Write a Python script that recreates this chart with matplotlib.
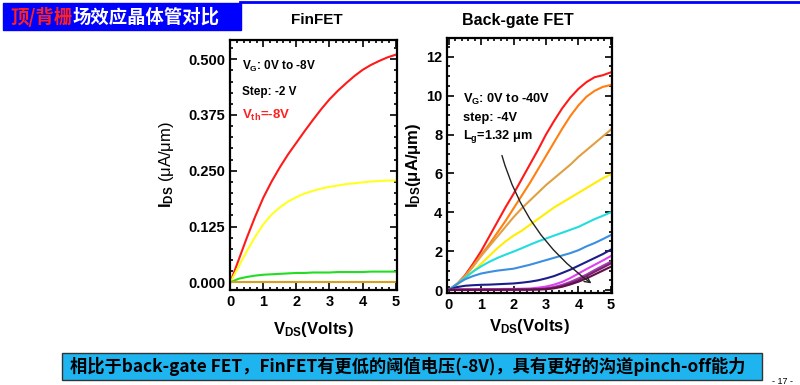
import matplotlib.pyplot as plt
from matplotlib.patches import Rectangle
from matplotlib.ticker import MultipleLocator, FormatStrFormatter

plt.rcParams['font.family'] = ['Liberation Sans', 'DejaVu Sans']
plt.rcParams['font.weight'] = 'bold'
plt.rcParams['axes.labelweight'] = 'bold'
plt.rcParams['mathtext.fontset'] = 'custom'
plt.rcParams['mathtext.rm'] = 'Liberation Sans:weight=normal'
plt.rcParams['mathtext.bf'] = 'Liberation Sans:bold'
plt.rcParams['mathtext.it'] = 'Liberation Sans:bold'
plt.rcParams['mathtext.default'] = 'bf'

# shared VDS grid (V)
vds = [0, 0.25, 0.5, 0.75, 1, 1.25, 1.5, 1.75, 2, 2.25, 2.5,
       2.75, 3, 3.25, 3.5, 3.75, 4, 4.25, 4.5, 4.75, 5]

# FinFET IDS (uA/um), VG 0V to -8V step -2V
fin_red = [0, 0.050, 0.100, 0.147, 0.190, 0.226, 0.258, 0.287, 0.313, 0.339, 0.364,
           0.388, 0.410, 0.429, 0.446, 0.462, 0.476, 0.487, 0.496, 0.504, 0.510]
fin_yellow = [0, 0.035, 0.070, 0.102, 0.130, 0.152, 0.168, 0.181, 0.191, 0.199, 0.205,
              0.210, 0.214, 0.217, 0.220, 0.222, 0.224, 0.226, 0.227, 0.228, 0.228]
fin_green = [0, 0.008, 0.012, 0.015, 0.017, 0.018, 0.019, 0.020, 0.021, 0.021, 0.022,
             0.022, 0.022, 0.023, 0.023, 0.023, 0.023, 0.024, 0.024, 0.024, 0.024]
fin_brown = [0.0005] * 21
fin_curves = [('#ff1a1a', fin_red), ('#ffff22', fin_yellow),
              ('#22dd22', fin_green), ('#d4a020', fin_brown)]

# Back-gate FET IDS (uA/um), VG 0V to -40V step -4V
bg_curves = [
    ('#ff1a1a', [0, 0.30, 0.75, 1.35, 2.00, 2.75, 3.50, 4.25, 4.95, 5.70, 6.45,
                 7.20, 8.00, 8.70, 9.35, 9.90, 10.35, 10.70, 10.95, 11.05, 11.20]),
    ('#ff7f10', [0, 0.28, 0.70, 1.25, 1.80, 2.35, 2.95, 3.55, 4.20, 4.85, 5.50,
                 6.20, 6.90, 7.60, 8.30, 8.95, 9.50, 9.95, 10.25, 10.45, 10.55]),
    ('#e0a040', [0, 0.30, 0.70, 1.20, 1.75, 2.25, 2.75, 3.25, 3.75, 4.20, 4.60,
                 5.00, 5.40, 5.75, 6.10, 6.45, 6.85, 7.20, 7.55, 7.90, 8.25]),
    ('#ffee00', [0, 0.25, 0.60, 0.95, 1.35, 1.75, 2.15, 2.50, 2.80, 3.05, 3.35,
                 3.65, 3.95, 4.25, 4.50, 4.75, 5.00, 5.25, 5.50, 5.75, 5.95]),
    ('#22dddd', [0, 0.30, 0.62, 0.95, 1.22, 1.45, 1.65, 1.82, 1.98, 2.15, 2.33,
                 2.50, 2.65, 2.80, 2.95, 3.10, 3.25, 3.45, 3.65, 3.82, 4.00]),
    ('#3a8fe0', [0, 0.30, 0.55, 0.72, 0.85, 0.93, 1.00, 1.05, 1.10, 1.20, 1.30,
                 1.42, 1.54, 1.66, 1.78, 1.90, 2.05, 2.25, 2.42, 2.62, 2.83]),
    ('#1c1c8c', [0, 0.15, 0.22, 0.25, 0.27, 0.28, 0.30, 0.32, 0.34, 0.38, 0.43,
                 0.50, 0.60, 0.72, 0.88, 1.05, 1.25, 1.45, 1.65, 1.85, 2.08]),
    ('#e040f0', [0, 0.03, 0.04, 0.04, 0.05, 0.05, 0.05, 0.06, 0.06, 0.07, 0.08,
                 0.12, 0.18, 0.28, 0.42, 0.62, 0.85, 1.08, 1.30, 1.52, 1.75]),
    ('#a040b0', [0, 0.02, 0.02, 0.02, 0.02, 0.02, 0.02, 0.02, 0.03, 0.03, 0.04,
                 0.05, 0.09, 0.16, 0.27, 0.42, 0.60, 0.80, 1.03, 1.25, 1.46]),
    ('#802070', [0, 0.02, 0.02, 0.02, 0.02, 0.02, 0.02, 0.02, 0.02, 0.03, 0.03,
                 0.04, 0.06, 0.12, 0.21, 0.35, 0.51, 0.72, 0.94, 1.15, 1.37]),
    ('#601048', [0, 0.01, 0.01, 0.01, 0.01, 0.01, 0.01, 0.02, 0.02, 0.02, 0.02,
                 0.03, 0.04, 0.09, 0.17, 0.29, 0.43, 0.60, 0.80, 1.00, 1.20]),
]

fig = plt.figure(figsize=(8, 3.85), dpi=100)

# page decorations in pixel coords
bg = fig.add_axes([0, 0, 1, 1])
bg.set_xlim(0, 800)
bg.set_ylim(385, 0)
bg.axis('off')
bg.plot([240, 800], [1.5, 1.5], color='#0000ff', lw=2)
bg.add_patch(Rectangle((3, 3), 238, 27, color='#0000ff'))
cjk = ['Noto Sans CJK SC', 'DejaVu Sans']
t1 = bg.text(10, 17, '顶/背栅', color='#ff2020', fontsize=13.2, fontweight='bold',
             family=cjk, va='center')
bg.annotate('场效应晶体管对比', xy=(1, 0.5), xycoords=t1, va='center', ha='left',
            color='white', fontsize=13.2, fontweight='bold', family=cjk)
bg.add_patch(Rectangle((62, 353), 700, 27, facecolor='#1eb4f0', edgecolor='#333333', lw=1))
bg.text(70, 366.5, '相比于back-gate FET，FinFET有更低的阈值电压(-8V)，具有更好的沟道pinch-off能力',
        fontsize=12.4, fontweight='bold', family=cjk, va='center', color='black')
bg.text(783, 381, '- 17 -', fontsize=6.5, ha='center', va='center', fontweight='normal')
bg.text(317, 20, 'FinFET', fontsize=11, ha='center', va='center')
bg.text(518, 20, 'Back-gate FET', fontsize=11.5, ha='center', va='center')


def style_axes(ax):
    for s in ax.spines.values():
        s.set_linewidth(1.6)
    ax.tick_params(which='both', direction='in', top=True, right=True, labelsize=10.5, width=1.2)
    ax.tick_params(which='major', length=5)
    ax.tick_params(which='minor', length=2.5)
    ax.xaxis.set_major_locator(MultipleLocator(1))
    ax.xaxis.set_minor_locator(MultipleLocator(0.2))


# FinFET
ax1 = fig.add_axes([0.2875, 0.247, 0.209, 0.649])
for c, vals in fin_curves:
    ax1.plot(vds, vals, color=c, lw=1.5)
ax1.set_xlim(-0.01, 5.05)
ax1.set_ylim(-0.017, 0.543)
style_axes(ax1)
ax1.yaxis.set_major_locator(MultipleLocator(0.125))
ax1.yaxis.set_minor_locator(MultipleLocator(0.025))
ax1.yaxis.set_major_formatter(FormatStrFormatter('%.3f'))
ax1.set_ylabel(r'$I_{DS}$ $\mathrm{(μA/μm)}$', fontsize=12, labelpad=9)
ax1.set_xlabel(r'$V_{DS}$(Volts)', fontsize=12, labelpad=8)
ax1.text(0.35, 0.483, r'$V_G$: 0V to -8V', fontsize=8.5, va='center')
ax1.text(0.35, 0.427, 'Step: -2 V', fontsize=8.5, va='center')
ax1.text(0.35, 0.375, r'$V_{th}$=-8V', fontsize=9.5, va='center', color='#ff2020')

# Back-gate FET
ax2 = fig.add_axes([0.5588, 0.239, 0.206, 0.662])
for c, vals in bg_curves:
    ax2.plot(vds, vals, color=c, lw=1.5)
ax2.set_xlim(-0.05, 5.03)
ax2.set_ylim(-0.15, 12.96)
style_axes(ax2)
ax2.yaxis.set_major_locator(MultipleLocator(2))
ax2.yaxis.set_minor_locator(MultipleLocator(0.5))
ax2.set_ylabel(r'$I_{DS}$(μA/μm)', fontsize=12, labelpad=2)
ax2.set_xlabel(r'$V_{DS}$(Volts)', fontsize=12, labelpad=4)
ax2.text(0.45, 9.8, r'$V_G$: 0V to -40V', fontsize=9.2, va='center')
ax2.text(0.45, 8.85, 'step: -4V', fontsize=9.2, va='center')
ax2.text(0.45, 7.9, r'$L_g$=1.32 μm', fontsize=9.2, va='center')
ax2.annotate('', xy=(4.47, 0.26), xytext=(1.62, 7.06),
             arrowprops=dict(arrowstyle='->', color='#222222', lw=1,
                             connectionstyle='arc3,rad=0.18'))

fig.savefig('out.png', dpi=100)
